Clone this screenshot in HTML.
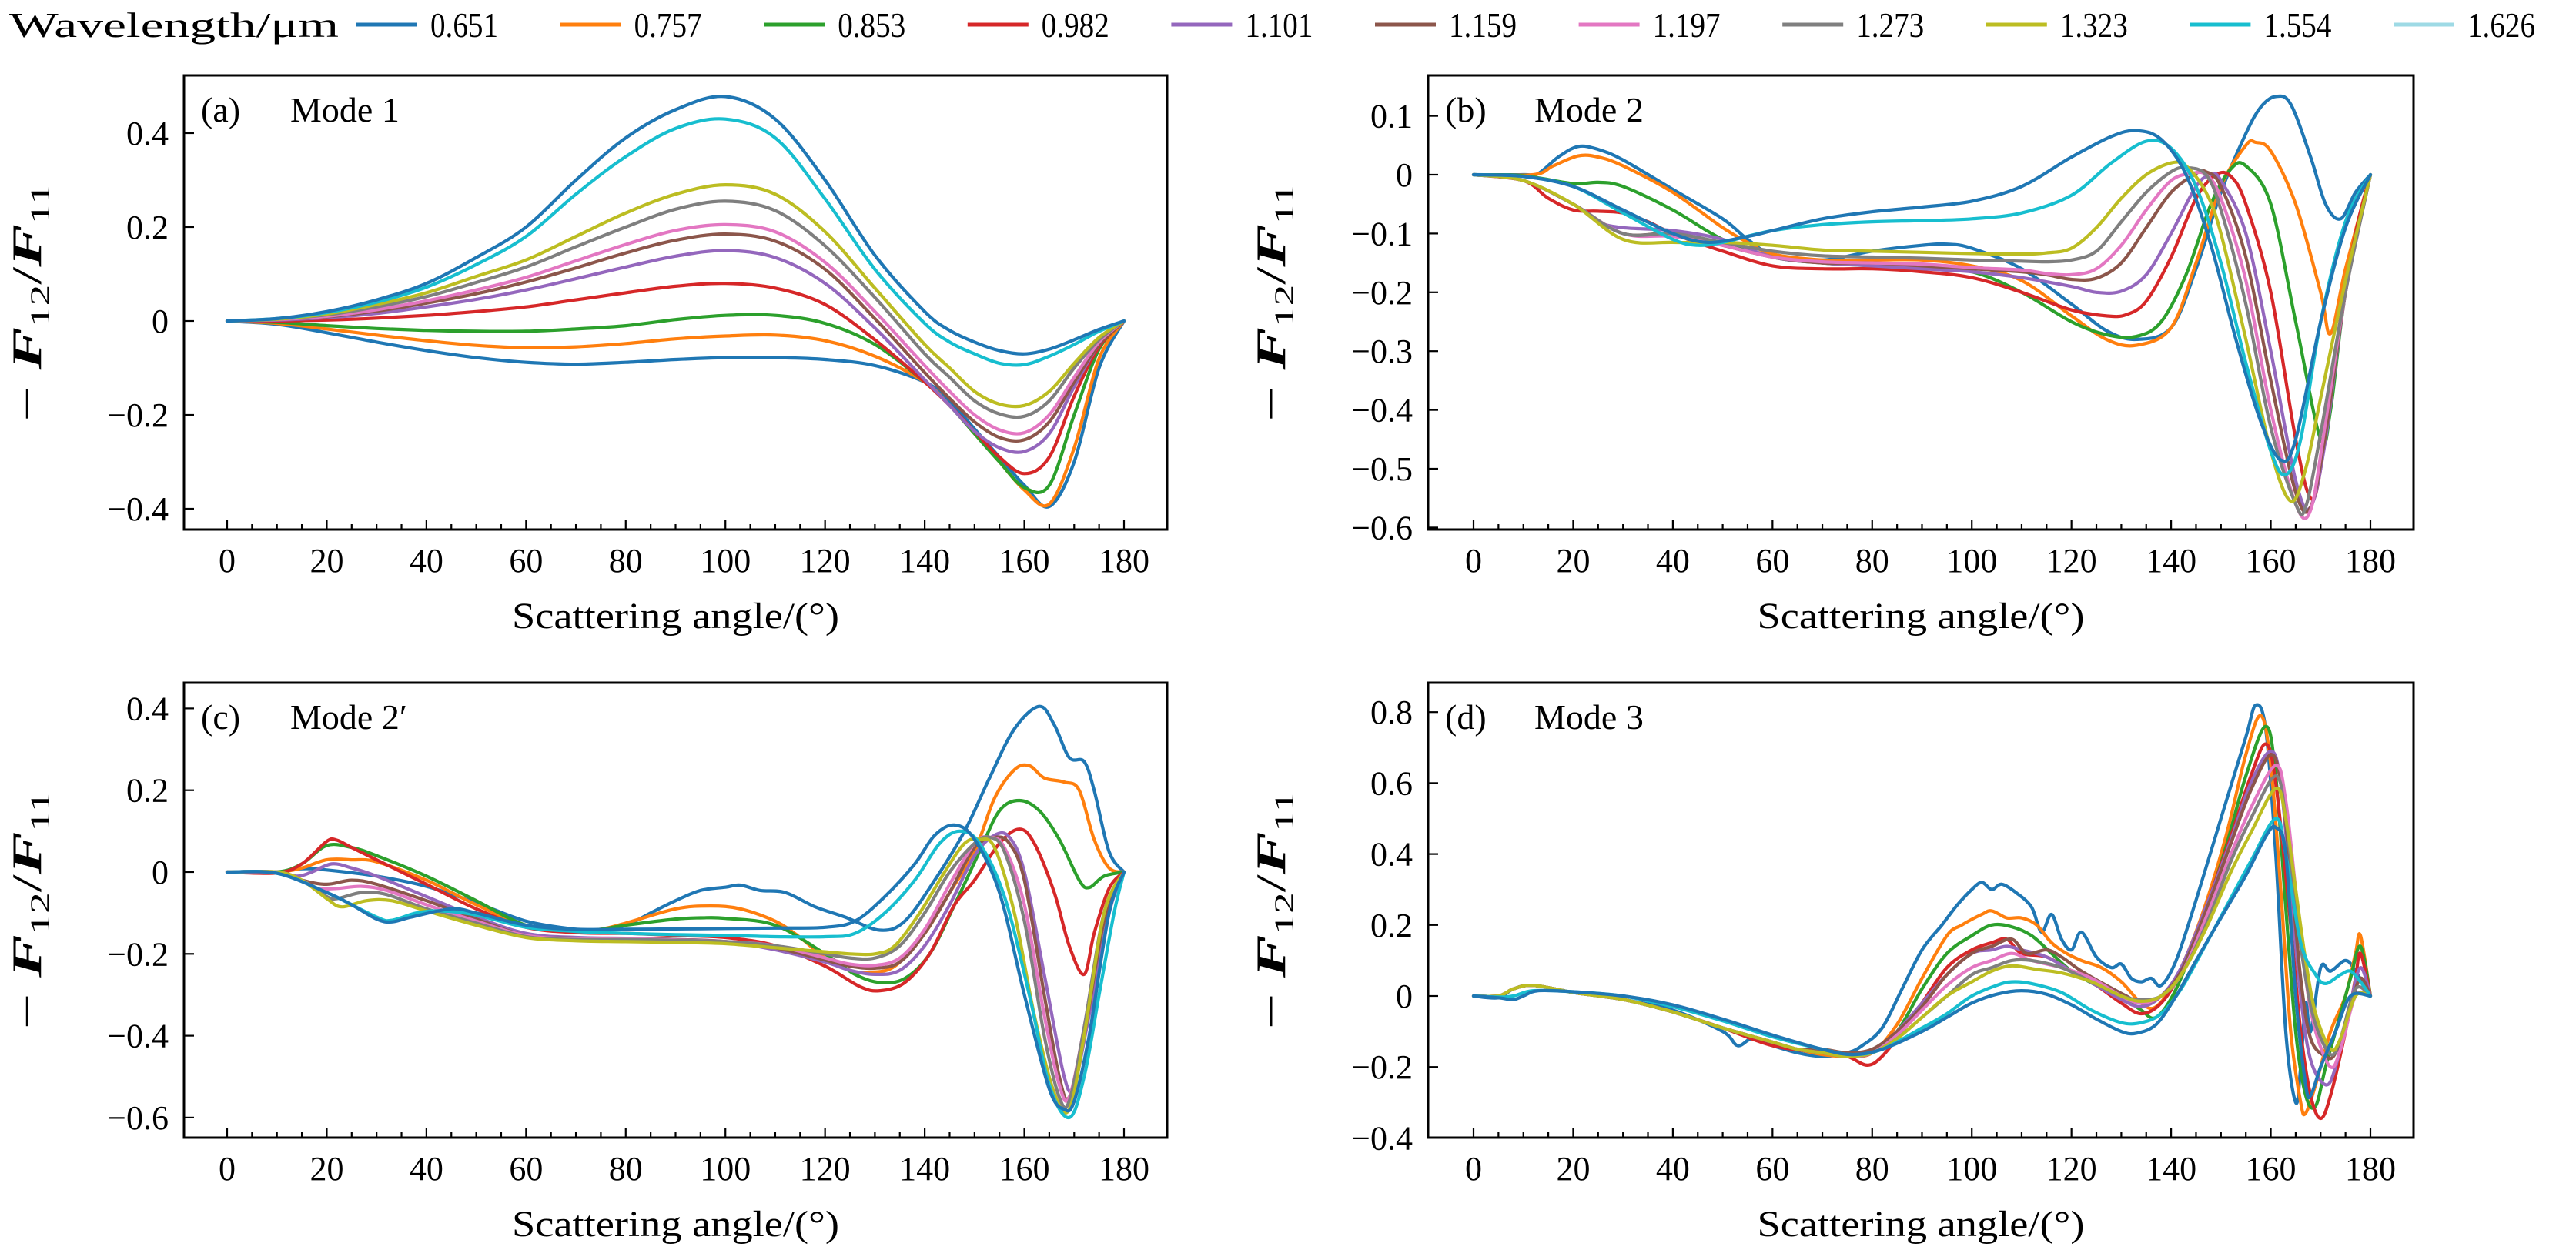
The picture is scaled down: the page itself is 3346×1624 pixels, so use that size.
<!DOCTYPE html>
<html><head><meta charset="utf-8">
<style>
html,body{margin:0;padding:0;background:#fff;}
svg{display:block;}
text{font-family:"Liberation Serif","DejaVu Serif",serif;fill:#000;}
</style></head>
<body>
<svg id="fig" xmlns="http://www.w3.org/2000/svg" width="3346" height="1624" viewBox="0 0 3346 1624">
<rect width="3346" height="1624" fill="#fff"/>
<g id="legend"></g>
<g id="panels"></g>
</svg>
<script>
const wavelengths = ["0.651","0.757","0.853","0.982","1.101","1.159","1.197","1.273","1.323","1.554","1.626"];
const legendColors = ["#1f77b4","#ff7f0e","#2ca02c","#d62728","#9467bd","#8c564b","#e377c2","#7f7f7f","#bcbd22","#17becf","#9edae5"];
const lineColors = ["#1f77b4","#ff7f0e","#2ca02c","#d62728","#9467bd","#8c564b","#e377c2","#7f7f7f","#bcbd22","#17becf","#1f77b4"];
const xTicks = [0,20,40,60,80,100,120,140,160,180];

// Panel (a) Mode 1
const aAngles = [0,10,20,30,40,50,60,70,80,90,100,110,120,130,140,145,150,155,160,165,170,175,180];
const a651 = [0,-.007,-.025,-.045,-.063,-.078,-.088,-.092,-.088,-.082,-.078,-.078,-.082,-.095,-.13,-.17,-.23,-.29,-.35,-.395,-.3,-.1,0];
const a757 = [0,-.005,-.017,-.03,-.042,-.052,-.057,-.055,-.048,-.038,-.032,-.03,-.042,-.075,-.13,-.18,-.24,-.3,-.36,-.39,-.27,-.08,0];
const a853 = [0,-.003,-.01,-.016,-.02,-.022,-.022,-.017,-.01,.003,.012,.012,-.005,-.05,-.13,-.18,-.24,-.3,-.355,-.35,-.2,-.06,0];
const a982 = [0,0,.002,.006,.012,.02,.03,.045,.06,.074,.08,.07,.035,-.04,-.13,-.18,-.235,-.29,-.325,-.29,-.16,-.055,0];
const a1101 = [0,.002,.007,.016,.03,.046,.066,.09,.115,.138,.15,.135,.08,-.015,-.125,-.18,-.235,-.27,-.278,-.24,-.14,-.05,0];
const a1159 = [0,.003,.009,.021,.038,.058,.083,.113,.145,.172,.185,.17,.11,.005,-.11,-.165,-.215,-.248,-.253,-.215,-.13,-.05,0];
const a1197 = [0,.003,.01,.024,.043,.066,.093,.128,.163,.193,.205,.19,.125,.02,-.095,-.15,-.2,-.232,-.238,-.2,-.12,-.045,0];
const a1273 = [0,.004,.013,.03,.052,.082,.115,.158,.2,.238,.255,.235,.16,.05,-.07,-.12,-.17,-.198,-.203,-.17,-.1,-.04,0];
const a1323 = [0,.004,.015,.035,.06,.095,.13,.18,.23,.27,.29,.27,.19,.07,-.05,-.1,-.15,-.177,-.18,-.15,-.09,-.035,0];
const a1554 = [0,.005,.018,.04,.072,.12,.18,.27,.35,.41,.43,.39,.26,.11,-.005,-.045,-.07,-.09,-.093,-.075,-.05,-.022,0];
const a1626 = [0,.005,.02,.045,.08,.135,.2,.3,.39,.45,.478,.43,.3,.14,.02,-.02,-.045,-.063,-.07,-.06,-.04,-.018,0];

// Panel (b) Mode 2 : [angle, value] pairs
const b651 = [[0,0],[10,0],[13,.002],[17,.03],[21,.048],[25,.043],[30,.025],[40,-.025],[50,-.075],[55,-.11],[60,-.135],[70,-.145],[80,-.13],[90,-.12],[95,-.118],[100,-.125],[110,-.16],[120,-.22],[127,-.265],[133,-.28],[140,-.26],[145,-.16],[150,-.03],[155,.07],[158,.115],[161,.133],[164,.12],[168,.03],[171,-.05],[174,-.075],[177,-.03],[180,0]];
const b757 = [[0,0],[12,0],[16,.015],[21,.032],[25,.03],[30,.015],[40,-.03],[50,-.09],[55,-.115],[60,-.135],[70,-.145],[80,-.145],[90,-.145],[100,-.155],[110,-.18],[120,-.24],[127,-.28],[133,-.29],[140,-.26],[145,-.15],[150,-.02],[155,.05],[157,.055],[160,.04],[165,-.05],[170,-.2],[172,-.27],[175,-.16],[180,0]];
const b853 = [[0,0],[10,-.002],[20,-.015],[25,-.013],[30,-.02],[40,-.06],[50,-.11],[60,-.14],[70,-.15],[80,-.155],[90,-.16],[100,-.165],[110,-.2],[120,-.25],[127,-.272],[133,-.275],[138,-.25],[143,-.17],[148,-.05],[152,.01],[155,.015],[160,-.05],[165,-.25],[170,-.45],[172,-.4],[175,-.2],[180,0]];
const b982 = [[0,0],[10,-.01],[15,-.04],[20,-.06],[25,-.062],[30,-.065],[35,-.08],[40,-.1],[50,-.13],[60,-.155],[70,-.16],[80,-.16],[90,-.165],[100,-.175],[110,-.2],[120,-.23],[127,-.24],[131,-.238],[135,-.215],[140,-.14],[145,-.04],[149,0],[152,-.003],[155,-.05],[160,-.2],[165,-.45],[168,-.55],[170,-.5],[173,-.3],[177,-.1],[180,0]];
const b1101 = [[0,0],[10,-.01],[20,-.05],[25,-.08],[30,-.09],[40,-.095],[50,-.11],[60,-.14],[70,-.15],[80,-.155],[90,-.16],[100,-.165],[110,-.175],[120,-.19],[125,-.2],[130,-.198],[135,-.17],[140,-.1],[145,-.02],[148,0],[150,-.01],[155,-.1],[160,-.3],[165,-.52],[168,-.565],[171,-.45],[175,-.2],[180,0]];
const b1159 = [[0,0],[10,-.01],[20,-.05],[30,-.1],[40,-.1],[50,-.12],[60,-.14],[70,-.15],[80,-.15],[90,-.155],[100,-.16],[110,-.165],[115,-.17],[120,-.178],[125,-.176],[130,-.15],[135,-.09],[140,-.03],[145,.002],[147,.005],[150,-.02],[155,-.14],[160,-.35],[165,-.54],[168,-.565],[171,-.44],[175,-.2],[180,0]];
const b1197 = [[0,0],[10,-.01],[20,-.05],[30,-.1],[40,-.105],[50,-.12],[60,-.14],[70,-.148],[80,-.15],[90,-.152],[100,-.158],[110,-.162],[115,-.168],[120,-.17],[125,-.16],[130,-.12],[135,-.06],[140,-.01],[144,.002],[147,0],[150,-.04],[155,-.18],[160,-.4],[165,-.56],[168,-.57],[171,-.42],[175,-.2],[180,0]];
const b1273 = [[0,0],[10,-.01],[20,-.05],[30,-.1],[40,-.1],[50,-.115],[60,-.13],[70,-.138],[80,-.14],[90,-.142],[100,-.145],[110,-.147],[115,-.148],[120,-.145],[125,-.13],[130,-.08],[135,-.03],[140,.005],[143,.012],[147,0],[150,-.06],[155,-.22],[160,-.43],[165,-.56],[167,-.565],[170,-.44],[175,-.2],[180,0]];
const b1323 = [[0,0],[10,-.01],[20,-.05],[30,-.11],[40,-.115],[50,-.115],[60,-.12],[70,-.128],[80,-.13],[90,-.132],[100,-.134],[110,-.135],[115,-.133],[120,-.125],[125,-.09],[130,-.04],[135,0],[140,.02],[143,.015],[147,-.03],[150,-.1],[155,-.28],[160,-.47],[164,-.555],[167,-.5],[170,-.38],[175,-.18],[180,0]];
const b1554 = [[0,0],[10,-.003],[20,-.02],[30,-.065],[40,-.11],[45,-.12],[50,-.115],[60,-.095],[70,-.085],[80,-.08],[90,-.078],[100,-.075],[110,-.065],[120,-.035],[128,.02],[135,.057],[140,.045],[145,-.02],[150,-.15],[155,-.32],[160,-.47],[163,-.51],[166,-.45],[170,-.25],[175,-.08],[180,0]];
const b1626 = [[0,0],[10,-.003],[20,-.02],[30,-.06],[40,-.1],[47,-.115],[55,-.105],[60,-.095],[70,-.075],[80,-.063],[90,-.055],[100,-.045],[110,-.02],[120,.03],[128,.065],[133,.075],[138,.06],[143,0],[148,-.12],[153,-.28],[158,-.42],[162,-.485],[165,-.45],[170,-.25],[175,-.09],[180,0]];

// Panel (c) Mode 2'
const c651 = [[0,0],[10,0],[15,.008],[20,.005],[30,-.01],[40,-.035],[50,-.075],[60,-.12],[70,-.14],[75,-.14],[80,-.13],[85,-.1],[90,-.07],[95,-.045],[100,-.037],[103,-.032],[107,-.045],[112,-.05],[118,-.085],[124,-.11],[131,-.142],[136,-.12],[142,-.02],[148,.1],[153,.23],[158,.35],[163,.405],[166,.36],[169,.28],[172,.27],[174,.2],[177,.05],[180,0]];
const c757 = [[0,0],[10,0],[15,.01],[20,.03],[25,.03],[30,.025],[40,-.02],[50,-.08],[60,-.13],[70,-.145],[75,-.14],[80,-.125],[90,-.09],[97,-.083],[103,-.09],[110,-.12],[115,-.16],[120,-.21],[125,-.24],[129,-.245],[134,-.23],[140,-.15],[145,-.05],[150,.05],[154,.18],[158,.25],[161,.26],[164,.23],[168,.22],[171,.2],[174,.08],[177,.01],[180,0]];
const c853 = [[0,0],[10,0],[15,.02],[20,.065],[25,.06],[30,.04],[40,-.01],[50,-.07],[60,-.13],[70,-.145],[75,-.14],[80,-.13],[90,-.115],[95,-.112],[100,-.113],[110,-.13],[120,-.2],[126,-.25],[131,-.27],[136,-.26],[141,-.2],[146,-.08],[151,.05],[155,.15],[159,.175],[163,.15],[167,.08],[171,-.02],[173,-.038],[176,-.01],[180,0]];
const c982 = [[0,0],[10,-.002],[15,.02],[20,.075],[22,.078],[25,.06],[30,.03],[40,-.03],[50,-.09],[60,-.135],[70,-.148],[80,-.15],[90,-.155],[100,-.16],[110,-.18],[120,-.23],[127,-.28],[131,-.29],[136,-.27],[141,-.2],[146,-.08],[150,-.02],[155,.07],[159,.105],[162,.07],[166,-.05],[169,-.18],[172,-.25],[174,-.15],[177,-.04],[180,0]];
const c1101 = [[0,0],[10,0],[14,-.01],[17,0],[21,.02],[25,.01],[30,-.01],[40,-.06],[50,-.11],[60,-.15],[70,-.16],[80,-.162],[90,-.165],[100,-.17],[110,-.19],[120,-.22],[125,-.24],[130,-.25],[135,-.24],[140,-.18],[145,-.08],[150,.04],[154,.09],[157,.085],[160,0],[164,-.25],[168,-.5],[170,-.52],[173,-.35],[177,-.1],[180,0]];
const c1159 = [[0,0],[10,0],[15,-.02],[20,-.03],[25,-.02],[30,-.03],[40,-.07],[50,-.115],[60,-.155],[70,-.162],[80,-.162],[90,-.165],[100,-.17],[110,-.185],[120,-.215],[125,-.23],[130,-.235],[135,-.22],[140,-.15],[145,-.05],[150,.06],[154,.085],[157,.07],[160,-.02],[164,-.3],[167,-.5],[169,-.55],[172,-.4],[176,-.12],[180,0]];
const c1197 = [[0,0],[10,0],[15,-.02],[18,-.04],[22,-.04],[27,-.035],[32,-.045],[40,-.08],[50,-.12],[60,-.155],[70,-.163],[80,-.163],[90,-.166],[100,-.17],[110,-.18],[120,-.21],[125,-.225],[130,-.228],[135,-.21],[140,-.14],[145,-.03],[150,.07],[153,.085],[156,.06],[160,-.08],[164,-.35],[167,-.52],[169,-.55],[172,-.38],[176,-.1],[180,0]];
const c1273 = [[0,0],[10,0],[15,-.02],[20,-.06],[22,-.065],[27,-.05],[32,-.055],[40,-.09],[50,-.125],[60,-.158],[70,-.165],[80,-.165],[90,-.167],[100,-.17],[110,-.18],[120,-.2],[125,-.21],[130,-.21],[135,-.18],[140,-.1],[145,0],[150,.07],[153,.085],[156,.05],[160,-.12],[164,-.4],[167,-.55],[169,-.56],[172,-.38],[176,-.1],[180,0]];
const c1323 = [[0,0],[10,0],[15,-.02],[20,-.065],[23,-.085],[28,-.07],[33,-.07],[40,-.095],[50,-.13],[60,-.16],[70,-.168],[80,-.17],[90,-.172],[100,-.175],[110,-.185],[120,-.195],[125,-.2],[130,-.2],[134,-.18],[139,-.1],[144,0],[148,.07],[151,.08],[154,.06],[158,-.1],[162,-.35],[166,-.54],[169,-.58],[172,-.4],[176,-.1],[180,0]];
const c1554 = [[0,0],[10,-.003],[20,-.05],[30,-.11],[33,-.118],[38,-.1],[43,-.095],[50,-.105],[60,-.135],[70,-.145],[80,-.15],[90,-.153],[100,-.155],[110,-.158],[120,-.158],[126,-.15],[132,-.1],[138,-.02],[143,.07],[147,.1],[151,.07],[156,-.06],[161,-.3],[165,-.52],[169,-.6],[172,-.5],[175,-.3],[178,-.1],[180,0]];
const c1626 = [[0,0],[10,-.003],[20,-.05],[25,-.08],[30,-.115],[33,-.122],[37,-.11],[45,-.09],[50,-.1],[60,-.13],[70,-.14],[80,-.14],[90,-.139],[100,-.138],[110,-.137],[120,-.135],[126,-.12],[132,-.06],[138,.02],[142,.09],[146,.115],[150,.08],[155,-.05],[160,-.3],[165,-.53],[168,-.58],[170,-.56],[173,-.4],[177,-.1],[180,0]];

// Panel (d) Mode 3
const d651 = [[0,0],[5,-.005],[8,.02],[12,.03],[20,.01],[30,-.01],[40,-.04],[50,-.1],[53,-.14],[56,-.12],[60,-.14],[65,-.16],[70,-.17],[75,-.16],[78,-.14],[82,-.09],[86,.02],[90,.13],[94,.2],[97,.255],[100,.3],[102,.32],[104,.3],[106,.315],[109,.29],[112,.25],[114,.18],[116,.23],[118,.16],[120,.13],[122,.18],[125,.11],[128,.08],[130,.09],[132,.05],[134,.04],[136,.05],[138,.03],[141,.1],[145,.27],[150,.5],[155,.73],[157,.82],[159,.75],[161,.4],[163,-.1],[165,-.3],[166,-.2],[167,-.02],[168,-.1],[170,.08],[172,.07],[175,.1],[177,.07],[180,0]];
const d757 = [[0,0],[5,0],[8,.02],[12,.03],[20,.01],[30,-.01],[40,-.045],[50,-.09],[60,-.13],[65,-.15],[70,-.165],[75,-.17],[80,-.16],[85,-.08],[90,.05],[95,.17],[98,.2],[102,.23],[104,.24],[107,.22],[110,.22],[113,.2],[116,.15],[119,.12],[122,.1],[126,.08],[130,.04],[134,-.02],[137,-.03],[141,.05],[146,.22],[151,.45],[155,.68],[158,.79],[160,.65],[162,.3],[164,-.1],[166,-.3],[167,-.33],[169,-.25],[172,-.1],[175,0],[177,.12],[178,.17],[180,0]];
const d853 = [[0,0],[5,0],[8,.02],[12,.03],[20,.01],[30,-.01],[40,-.045],[50,-.09],[60,-.13],[65,-.15],[70,-.16],[75,-.17],[80,-.16],[85,-.1],[90,.02],[95,.12],[100,.17],[104,.2],[108,.195],[112,.17],[116,.12],[120,.07],[125,.03],[130,0],[134,-.04],[137,-.06],[141,.02],[146,.2],[151,.42],[155,.62],[159,.76],[161,.62],[163,.25],[165,-.1],[167,-.28],[169,-.31],[171,-.2],[174,-.05],[176,.05],[178,.14],[180,0]];
const d982 = [[0,0],[5,0],[8,.02],[12,.03],[20,.01],[30,-.01],[40,-.045],[50,-.09],[60,-.14],[70,-.16],[75,-.17],[79,-.195],[82,-.17],[86,-.1],[90,-.02],[95,.08],[100,.13],[104,.15],[107,.16],[110,.12],[115,.11],[120,.07],[125,.03],[130,-.02],[134,-.05],[138,-.02],[142,.07],[147,.25],[152,.45],[156,.62],[159,.71],[161,.6],[164,.2],[166,-.1],[168,-.28],[170,-.345],[172,-.28],[175,-.1],[177,.05],[178,.12],[180,0]];
const d1101 = [[0,0],[5,0],[8,.02],[12,.03],[20,.01],[30,-.01],[40,-.045],[50,-.09],[60,-.13],[65,-.15],[70,-.16],[75,-.17],[80,-.16],[85,-.1],[90,-.02],[95,.06],[100,.12],[104,.13],[107,.14],[110,.13],[115,.11],[120,.07],[125,.03],[130,-.01],[134,-.03],[138,0],[142,.08],[147,.25],[152,.44],[156,.6],[160,.69],[162,.6],[164,.3],[166,0],[168,-.18],[171,-.25],[173,-.2],[176,-.02],[178,.08],[180,0]];
const d1159 = [[0,0],[5,0],[8,.02],[12,.03],[20,.01],[30,-.01],[40,-.045],[50,-.09],[60,-.13],[65,-.15],[70,-.15],[75,-.16],[80,-.15],[85,-.1],[90,-.03],[95,.06],[100,.12],[104,.14],[108,.16],[111,.12],[115,.13],[118,.11],[122,.07],[127,.03],[131,0],[134,-.02],[138,0],[142,.07],[147,.24],[152,.43],[156,.58],[160,.68],[162,.6],[164,.35],[166,.05],[168,-.12],[171,-.17],[173,-.16],[176,-.03],[178,.05],[180,0]];
const d1197 = [[0,0],[5,0],[8,.02],[12,.03],[20,.01],[30,-.01],[40,-.045],[50,-.09],[60,-.13],[65,-.15],[70,-.16],[75,-.17],[80,-.16],[85,-.11],[90,-.04],[95,.03],[100,.08],[104,.1],[108,.12],[112,.1],[118,.08],[124,.05],[130,0],[134,-.02],[138,0],[142,.06],[147,.22],[152,.4],[156,.53],[161,.65],[163,.55],[165,.3],[167,.05],[169,-.1],[172,-.2],[174,-.15],[177,0],[180,0]];
const d1273 = [[0,0],[5,0],[8,.02],[12,.03],[20,.01],[30,-.01],[40,-.045],[50,-.09],[60,-.13],[65,-.15],[70,-.16],[75,-.17],[80,-.16],[85,-.12],[90,-.06],[95,0],[100,.06],[104,.08],[108,.1],[112,.1],[118,.08],[124,.04],[130,0],[134,-.01],[138,0],[142,.06],[147,.2],[152,.38],[156,.5],[161,.62],[163,.5],[165,.25],[167,.05],[169,-.08],[172,-.165],[174,-.12],[177,.02],[180,0]];
const d1323 = [[0,0],[5,0],[8,.02],[12,.03],[20,.01],[30,-.01],[40,-.045],[50,-.09],[60,-.13],[65,-.15],[70,-.16],[75,-.17],[80,-.16],[85,-.12],[90,-.06],[95,0],[100,.04],[104,.07],[108,.085],[113,.075],[118,.065],[124,.04],[130,0],[134,-.015],[138,0],[142,.06],[147,.19],[152,.35],[156,.46],[161,.585],[163,.5],[165,.3],[167,.1],[169,-.05],[172,-.15],[174,-.12],[177,0],[180,0]];
const d1554 = [[0,0],[5,-.003],[8,0],[12,.015],[20,.012],[30,0],[40,-.03],[50,-.07],[60,-.115],[70,-.15],[76,-.165],[82,-.15],[90,-.09],[95,-.05],[100,0],[105,.03],[108,.04],[112,.035],[118,.01],[124,-.04],[130,-.075],[134,-.075],[138,-.05],[142,.02],[146,.12],[151,.25],[156,.38],[161,.5],[163,.4],[166,.15],[169,.06],[171,.035],[174,.06],[176,.07],[178,.04],[180,0]];
const d1626 = [[0,0],[5,-.005],[8,-.01],[10,0],[13,.015],[20,.012],[30,0],[40,-.025],[50,-.065],[60,-.11],[70,-.15],[76,-.165],[82,-.15],[90,-.1],[95,-.06],[100,-.02],[105,.005],[110,.015],[115,.005],[120,-.025],[125,-.065],[130,-.1],[133,-.105],[137,-.08],[141,0],[145,.1],[150,.22],[155,.34],[159,.45],[161,.475],[163,.4],[165,0],[167,-.25],[168,-.28],[170,-.2],[173,-.1],[176,0],[180,0]];

const aYTicks = [0.4,0.2,0,-0.2,-0.4];
const bYTicks = [0.1,0,-0.1,-0.2,-0.3,-0.4,-0.5,-0.6];
const cYTicks = [0.4,0.2,0,-0.2,-0.4,-0.6];
const dYTicks = [0.8,0.6,0.4,0.2,0,-0.2,-0.4];

function toPairs(ang, vals){ return ang.map((a,i)=>[a, vals[i]]); }
const aSeries = [a651,a757,a853,a982,a1101,a1159,a1197,a1273,a1323,a1554,a1626].map(v=>toPairs(aAngles,v));
const bSeries = [b651,b757,b853,b982,b1101,b1159,b1197,b1273,b1323,b1554,b1626];
const cSeries = [c651,c757,c853,c982,c1101,c1159,c1197,c1273,c1323,c1554,c1626];
const dSeries = [d651,d757,d853,d982,d1101,d1159,d1197,d1273,d1323,d1554,d1626];

const NS = "http://www.w3.org/2000/svg";
function el(tag, attrs, parent){ const e=document.createElementNS(NS,tag); for(const k in attrs) e.setAttribute(k,attrs[k]); if(parent) parent.appendChild(e); return e; }
function fmt(v){ if(v===0) return "0"; const s=Math.abs(v).toFixed(1); return (v<0?"\u2212":"")+s; }

const panels = [
 {key:"a", label:"(a)", mode:"Mode 1", L:239,R:1516,T:98,B:688, x0:295,x180:1460, yZero:417, yUnit:610, ticks:aYTicks, series:aSeries},
 {key:"b", label:"(b)", mode:"Mode 2", L:1855,R:3135,T:98,B:688, x0:1914,x180:3079, yZero:227, yUnit:764, ticks:bYTicks, series:bSeries},
 {key:"c", label:"(c)", mode:"Mode 2\u2032", L:239,R:1516,T:887,B:1478, x0:295,x180:1460, yZero:1133, yUnit:531.5, ticks:cYTicks, series:cSeries},
 {key:"d", label:"(d)", mode:"Mode 3", L:1855,R:3135,T:887,B:1478, x0:1914,x180:3079, yZero:1294, yUnit:461, ticks:dYTicks, series:dSeries}
];

const root = document.getElementById("panels");
const defs = el("defs",{},document.getElementById("fig"));

function smoothPath(pts){
  let d = "M"+pts[0][0].toFixed(1)+","+pts[0][1].toFixed(1);
  for(let i=0;i<pts.length-1;i++){
    const p0=pts[i-1]||pts[i], p1=pts[i], p2=pts[i+1], p3=pts[i+2]||pts[i+1];
    const c1x=p1[0]+(p2[0]-p0[0])/6, c1y=p1[1]+(p2[1]-p0[1])/6;
    const c2x=p2[0]-(p3[0]-p1[0])/6, c2y=p2[1]-(p3[1]-p1[1])/6;
    d+=" C"+c1x.toFixed(1)+","+c1y.toFixed(1)+" "+c2x.toFixed(1)+","+c2y.toFixed(1)+" "+p2[0].toFixed(1)+","+p2[1].toFixed(1);
  }
  return d;
}

panels.forEach(p=>{
  const xs = a => p.x0 + (a/180)*(p.x180-p.x0);
  const ys = v => p.yZero - v*p.yUnit;
  const g = el("g",{},root);
  
  
  const cp = el("clipPath",{id:"clip-"+p.key},defs);
  el("rect",{x:p.L,y:p.T,width:p.R-p.L,height:p.B-p.T},cp);

  const sg = el("g",{"clip-path":"url(#clip-"+p.key+")"},g);
  
  
  p.series.forEach((s,i)=>{
    const pts = s.map(q=>[xs(q[0]), ys(q[1])]);
    const path = el("path",{d:smoothPath(pts),fill:"none",stroke:lineColors[i],"stroke-width":4.2,"stroke-linejoin":"round","stroke-linecap":"round"},sg);
    
    
  });

  const fr = el("rect",{x:p.L,y:p.T,width:p.R-p.L,height:p.B-p.T,fill:"none",stroke:"#000","stroke-width":3},g);
  
  

  const xg = el("g",{},g);
  
  
  for(let a=0;a<=180;a+=5){
    const major = a%20===0;
    el("line",{x1:xs(a),x2:xs(a),y1:p.B,y2:p.B-(major?13:7),stroke:"#000","stroke-width":2.2},xg);
  }
  xTicks.forEach(a=>{
    const t = el("text",{x:xs(a),y:p.B+55,"text-anchor":"middle","font-size":44},xg);
    t.textContent = String(a);
    
    
  });
  const xt = el("text",{x:(p.L+p.R)/2,y:p.B+128,"text-anchor":"middle","font-size":48,textLength:425,lengthAdjust:"spacingAndGlyphs"},xg);
  xt.textContent = "Scattering angle/(\u00B0)";
  
  

  const yg = el("g",{},g);
  
  
  p.ticks.forEach(v=>{
    const y = ys(v);
    el("line",{x1:p.L,x2:p.L+13,y1:y,y2:y,stroke:"#000","stroke-width":2.2},yg);
    const t = el("text",{x:p.L-20,y:y+15,"text-anchor":"end","font-size":44},yg);
    t.textContent = fmt(v);
    
    
  });
  const cx = p.L-186, cy=(p.T+p.B)/2;
  const yt = el("text",{x:cx,y:cy,"text-anchor":"middle","font-size":54,textLength:310,lengthAdjust:"spacingAndGlyphs",transform:"rotate(-90 "+cx+" "+cy+")"},yg);
  yt.innerHTML = '\u2212 <tspan font-style="italic" font-weight="bold">F</tspan><tspan font-size="36" dy="11">12</tspan><tspan dy="-11">/</tspan><tspan font-style="italic" font-weight="bold">F</tspan><tspan font-size="36" dy="11">11</tspan>';
  
  

  const pl = el("text",{x:p.L+22,y:p.T+60,"font-size":46},g);
  pl.textContent = p.label;
  
  
  const ml = el("text",{x:p.L+138,y:p.T+60,"font-size":46},g);
  ml.textContent = p.mode;
  
  
});

const lg = document.getElementById("legend");
const lt = el("text",{x:12,y:48,"font-size":46,textLength:428,lengthAdjust:"spacingAndGlyphs"},lg);
lt.textContent = "Wavelength/\u03BCm";


wavelengths.forEach((w,i)=>{
  const x = 463 + i*264.6;
  const e = el("g",{},lg);
  
  
  el("line",{x1:x,x2:x+79,y1:32,y2:32,stroke:legendColors[i],"stroke-width":5},e);
  const t = el("text",{x:x+96,y:48,"font-size":46,textLength:88,lengthAdjust:"spacingAndGlyphs"},e);
  t.textContent = w;
});
</script>
</body></html>
